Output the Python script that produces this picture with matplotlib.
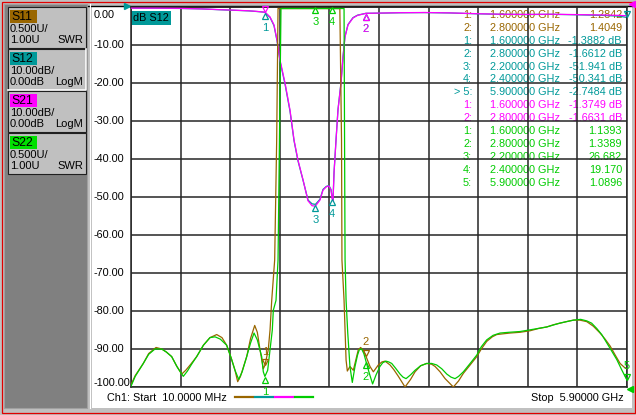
import matplotlib
matplotlib.use("Agg")
import matplotlib.pyplot as plt
import matplotlib.transforms as mtransforms
from matplotlib.patches import Rectangle
import numpy as np

plt.rcParams["font.family"] = ["Liberation Sans", "DejaVu Sans"]
plt.rcParams["font.size"] = 7.5

C_S11 = "#996600"
C_S12 = "#009999"
C_S21 = "#FF00FF"
C_S22 = "#00CC00"
C_GRID = "#262626"

# sweep (GHz)
f_start = 0.010
f_stop = 5.900

# S21 / S12 transmission, dB
f_db = [0.01, 0.30, 0.58, 0.85, 1.06, 1.25, 1.41, 1.50, 1.55, 1.60,
        1.66, 1.708, 1.744, 1.779, 1.839, 1.898, 1.946, 1.993, 2.053, 2.112,
        2.16, 2.20, 2.254, 2.29, 2.33, 2.361, 2.385, 2.40, 2.409, 2.421,
        2.445, 2.468, 2.504, 2.528, 2.551, 2.587, 2.646, 2.70, 2.80, 2.96,
        3.20, 3.50, 3.80, 4.10, 4.40, 4.70, 5.00, 5.30, 5.60, 5.80, 5.90]
s21_db = [-0.3, -0.3, -0.35, -0.5, -0.7, -0.85, -1.0, -1.15, -1.25, -1.3749,
          -2.6, -4.7, -8.7, -13.9, -20.0, -27.1, -35.0, -40.3, -45.5, -51.0,
          -52.3, -52.4, -50.8, -48.2, -47.3, -47.1, -48.2, -50.6, -51.0, -43.7,
          -35.0, -27.1, -20.0, -13.2, -7.9, -4.7, -2.9, -2.2, -1.6631, -1.6,
          -1.5, -1.45, -1.55, -1.75, -1.9, -1.95, -1.9, -2.0, -2.1, -2.2, -2.3]
s12_db = [-0.3, -0.32, -0.38, -0.5, -0.72, -0.88, -1.02, -1.18, -1.27, -1.3882,
          -2.7, -4.9, -8.9, -14.2, -20.3, -27.4, -35.2, -40.5, -45.6, -50.8,
          -51.8, -51.941, -50.6, -48.0, -47.2, -47.0, -48.0, -50.341, -50.8, -43.5,
          -34.8, -27.0, -19.8, -13.0, -7.8, -4.6, -2.8, -2.15, -1.6612, -1.62,
          -1.52, -1.47, -1.57, -1.78, -1.92, -1.98, -1.93, -2.05, -2.2, -2.4, -2.7484]

# S11 reflection, SWR  (frequency GHz, SWR)
s11_pts = [(0.01, 1.03), (0.06, 1.15), (0.156, 1.31), (0.22, 1.44), (0.307, 1.52),
           (0.375, 1.50), (0.43, 1.46), (0.493, 1.40), (0.55, 1.28), (0.612, 1.17),
           (0.66, 1.22), (0.72, 1.30), (0.790, 1.40), (0.87, 1.55), (0.948, 1.65),
           (1.028, 1.69), (1.09, 1.65), (1.146, 1.55), (1.20, 1.38), (1.245, 1.22),
           (1.277, 1.07), (1.31, 1.14), (1.384, 1.40), (1.43, 1.64), (1.479, 1.81),
           (1.51, 1.72), (1.542, 1.49), (1.581, 1.24), (1.60, 1.2842), (1.640, 1.49),
           (1.661, 1.75), (1.681, 2.14), (1.716, 2.67), (1.740, 4.25), (1.756, 6.2),
           (1.80, 12.0), (2.00, 30.0), (2.20, 35.0), (2.40, 25.0), (2.49, 8.0),
           (2.51, 4.25), (2.515, 2.67), (2.54, 2.14), (2.564, 1.355), (2.579, 1.21),
           (2.61, 1.27), (2.65, 1.22), (2.685, 1.38), (2.709, 1.49), (2.737, 1.52),
           (2.77, 1.48), (2.80, 1.4049), (2.848, 1.27), (2.888, 1.20), (2.947, 1.29),
           (2.99, 1.33), (3.027, 1.34), (3.086, 1.29), (3.13, 1.23), (3.185, 1.14),
           (3.264, 1.00), (3.33, 1.10), (3.383, 1.20), (3.45, 1.28), (3.522, 1.31),
           (3.58, 1.30), (3.621, 1.27), (3.68, 1.20), (3.74, 1.11), (3.838, 1.00),
           (3.90, 1.08), (3.957, 1.18), (4.03, 1.28), (4.116, 1.40), (4.17, 1.50),
           (4.234, 1.60), (4.30, 1.66), (4.353, 1.69), (4.43, 1.70), (4.511, 1.71),
           (4.63, 1.72), (4.749, 1.74), (4.85, 1.77), (4.947, 1.79), (5.03, 1.82),
           (5.105, 1.84), (5.18, 1.86), (5.264, 1.88), (5.34, 1.88), (5.422, 1.86),
           (5.50, 1.80), (5.58, 1.71), (5.64, 1.63), (5.699, 1.54), (5.76, 1.42),
           (5.818, 1.31), (5.877, 1.25), (5.90, 1.24)]

# S22 reflection, SWR  (frequency GHz, SWR)
s22_pts = [(0.01, 1.01), (0.06, 1.14), (0.156, 1.31), (0.22, 1.43), (0.295, 1.50),
           (0.375, 1.50), (0.43, 1.46), (0.493, 1.40), (0.56, 1.26), (0.631, 1.14),
           (0.68, 1.21), (0.73, 1.30), (0.790, 1.40), (0.87, 1.55), (0.948, 1.65),
           (1.008, 1.66), (1.07, 1.63), (1.146, 1.55), (1.20, 1.38), (1.245, 1.22),
           (1.289, 1.10), (1.33, 1.20), (1.384, 1.40), (1.43, 1.58), (1.471, 1.71),
           (1.51, 1.62), (1.562, 1.40), (1.581, 1.20), (1.60, 1.1393), (1.633, 1.22),
           (1.661, 1.49), (1.688, 1.75), (1.700, 2.01), (1.732, 2.14), (1.756, 2.67),
           (1.773, 4.25), (1.791, 6.2), (1.82, 10.0), (2.00, 25.0), (2.20, 26.682),
           (2.40, 19.170), (2.52, 8.0), (2.54, 6.0), (2.546, 4.25), (2.552, 2.67),
           (2.564, 2.14), (2.584, 1.71), (2.61, 1.27), (2.638, 1.06), (2.67, 1.27),
           (2.70, 1.42), (2.721, 1.49), (2.749, 1.50), (2.775, 1.44), (2.80, 1.3389),
           (2.84, 1.18), (2.879, 1.04), (2.92, 1.16), (2.966, 1.27), (3.00, 1.32),
           (3.038, 1.34), (3.07, 1.33), (3.106, 1.31), (3.15, 1.25), (3.205, 1.17),
           (3.24, 1.13), (3.276, 1.11), (3.33, 1.16), (3.383, 1.22), (3.45, 1.28),
           (3.522, 1.31), (3.58, 1.31), (3.64, 1.29), (3.70, 1.24), (3.76, 1.17),
           (3.81, 1.13), (3.858, 1.11), (3.90, 1.14), (3.957, 1.20), (4.03, 1.30),
           (4.116, 1.42), (4.17, 1.53), (4.234, 1.62), (4.31, 1.68), (4.393, 1.71),
           (4.50, 1.72), (4.63, 1.73), (4.79, 1.76), (4.947, 1.79), (5.10, 1.84),
           (5.264, 1.88), (5.35, 1.89), (5.422, 1.87), (5.48, 1.84), (5.541, 1.77),
           (5.60, 1.69), (5.66, 1.58), (5.72, 1.47), (5.779, 1.36), (5.84, 1.22),
           (5.90, 1.0896)]
f_s11, s11_swr = zip(*s11_pts)
f_s22, s22_swr = zip(*s22_pts)

# marker readouts
mk_freq = [1.6, 2.8, 2.2, 2.4, 5.9]
s11_mk = [1.2842, 1.4049]
s12_mk = [-1.3882, -1.6612, -51.941, -50.341, -2.7484]
s21_mk = [-1.3749, -1.6631]
s22_mk = [1.1393, 1.3389, 26.682, 19.170, 1.0896]
active_marker = 5

# channel buttons
ch_names = ["S11", "S12", "S21", "S22"]
ch_colors = [C_S11, C_S12, C_S21, "#00E000"]
ch_scale = ["0.500U/", "10.00dB/", "10.00dB/", "0.500U/"]
ch_ref = ["1.00U", "0.00dB", "0.00dB", "1.00U"]
ch_fmt = ["SWR", "LogM", "LogM", "SWR"]

DB_REF, DB_DIV = 0.0, 10.0
SWR_REF, SWR_DIV = 1.0, 0.5
NDIV = 10
SWR_TOP = SWR_REF + SWR_DIV * NDIV

fig = plt.figure(figsize=(6.36, 4.15), dpi=100)
fig.patch.set_facecolor("#C0C0C0")

# screen chrome in pixel coordinates
bg = fig.add_axes([0, 0, 1, 1])
bg.set_xlim(0, 636)
bg.set_ylim(415, 0)
bg.axis("off")

bg.add_patch(Rectangle((92, 6), 540, 402, fc="white", ec="none"))
bg.plot([88, 632], [6, 6], color="black", lw=1)
bg.add_patch(Rectangle((4, 4), 83, 404, fc="#808080", ec="#A0A0A0", lw=0.8))
bg.plot([90, 90], [4, 408], color="white", lw=0.8)
bg.add_patch(Rectangle((2, 2.5), 632.5, 410, fill=False, ec="#E00000", lw=0.9))

for i, name in enumerate(ch_names):
    top = 7 + 42 * i
    bg.add_patch(Rectangle((8, top), 78, 41, fc="#C0C0C0", ec="#202020", lw=0.8))
    if name == "S12":
        bg.plot([86, 86, 8], [top, top + 41, top + 41], color="white", lw=1.2)
    bg.add_patch(Rectangle((10, top + 3), 27, 13, fc=ch_colors[i], ec="none"))
    bg.text(11.5, top + 9.8, name, fontsize=8.8, va="center", ha="left", color="black")
    bg.text(10, top + 21.5, ch_scale[i], fontsize=8, va="center", ha="left")
    bg.text(10, top + 33, ch_ref[i], fontsize=8, va="center", ha="left")
    bg.text(83, top + 33, ch_fmt[i], fontsize=8, va="center", ha="right")

# measurement grid
ax = fig.add_axes([131 / 636, 1 - 387 / 415, 496 / 636, 380 / 415])
ax.set_facecolor("none")
ax.set_xlim(f_start, f_stop)
ax.set_ylim(DB_REF - DB_DIV * NDIV, DB_REF)
xt = np.linspace(f_start, f_stop, NDIV + 1)
yt = np.linspace(DB_REF - DB_DIV * NDIV, DB_REF, NDIV + 1)
ax.set_xticks(xt)
ax.set_yticks(yt)
ax.tick_params(length=0, labelleft=False, labelbottom=False)
ax.grid(True, color=C_GRID, lw=1.1)
for sp in ax.spines.values():
    sp.set_color(C_GRID)
    sp.set_linewidth(1.1)

swr = ax.twinx()
swr.set_ylim(SWR_REF, SWR_TOP)
swr.set_yticks([])
swr.axis("off")

# y labels, left aligned in the white margin
lab_tr = mtransforms.blended_transform_factory(bg.transData, ax.transData)
for v in yt:
    dy = 0
    if v == yt[-1]:
        dy = -8
    elif v == yt[0]:
        dy = 4
    tr = mtransforms.offset_copy(lab_tr, fig=fig, y=dy, units="dots")
    bg.text(94, v, f"{v:.2f}" if v != 0 else "0.00", transform=tr,
            ha="left", va="center", fontsize=7.8, color="black")

# traces
clip_swr = lambda a: np.clip(a, SWR_REF, SWR_TOP - 0.02)
swr.plot(f_s11, clip_swr(np.array(s11_swr)), color=C_S11, lw=0.9, zorder=2)
ax.plot(f_db, s12_db, color=C_S12, lw=0.9, zorder=2)
ax.plot(f_db, s21_db, color=C_S21, lw=0.9, zorder=3)
swr.plot(f_s22, clip_swr(np.array(s22_swr)), color=C_S22, lw=0.9, zorder=3)

MS = 5.0


def draw_markers(axis, values, color, shapes, show, top):
    for n, (f, v) in enumerate(zip(mk_freq, values)):
        v = min(v, top)
        shp = shapes[n]
        off = -MS / 2 if shp == "^" else MS / 2
        tr = mtransforms.offset_copy(axis.transData, fig=fig, y=off, units="points")
        axis.plot([f], [v], marker=shp, ms=MS, mfc="none", mec=color, mew=0.9,
                  transform=tr, clip_on=False, zorder=5)
        if show[n]:
            ty = -11 if shp == "^" else 10
            axis.annotate(str(n + 1), (f, v), xytext=(0, ty), textcoords="offset points",
                          ha="center", va="center", color=color, fontsize=8,
                          annotation_clip=False, zorder=5)


draw_markers(swr, s11_mk, C_S11, ["v", "v"], [True, True], SWR_TOP)
draw_markers(ax, s12_mk, C_S12, ["^", "^", "^", "^", "v"], [True, True, True, True, False], DB_REF)
draw_markers(ax, s21_mk, C_S21, ["v", "^"], [False, True], DB_REF)
draw_markers(swr, s22_mk, C_S22, ["^", "^", "^", "^", "v"], [True] * 5, SWR_TOP)

# reference position indicators
ax.plot([f_start], [DB_REF], marker=">", ms=4.5, color=C_S12, clip_on=False,
        transform=mtransforms.offset_copy(ax.transData, fig=fig, x=-4, y=1, units="dots"))
ax.plot([f_stop], [DB_REF], marker="<", ms=4.5, color=C_S21, clip_on=False,
        transform=mtransforms.offset_copy(ax.transData, fig=fig, x=5, y=3, units="dots"))
swr.plot([f_stop], [SWR_REF], marker="<", ms=5, color=C_S22, clip_on=False,
         transform=mtransforms.offset_copy(swr.transData, fig=fig, x=3, y=-2, units="dots"))

bg.text(133, 18, "dB S12", ha="left", va="center", fontsize=7.8, color="black",
        bbox=dict(boxstyle="square,pad=0.2", fc=C_S12, ec="none"))

# marker readout table
rows = []
for n, v in enumerate(s11_mk):
    rows.append((C_S11, f"{n + 1}:", mk_freq[n], f"{v:#.5g}"))
for n, v in enumerate(s12_mk):
    idx = f"> {n + 1}:" if n + 1 == active_marker else f"{n + 1}:"
    rows.append((C_S12, idx, mk_freq[n], f"{v:#.5g} dB"))
for n, v in enumerate(s21_mk):
    rows.append((C_S21, f"{n + 1}:", mk_freq[n], f"{v:#.5g} dB"))
for n, v in enumerate(s22_mk):
    rows.append((C_S22, f"{n + 1}:", mk_freq[n], f"{v:#.5g}"))

for r, (col, idx, f, val) in enumerate(rows):
    y = 15 + 12.9 * r
    bg.text(472, y, idx, ha="right", va="center", color=col, fontsize=7.8)
    bg.text(560, y, f"{f:.6f} GHz", ha="right", va="center", color=col, fontsize=7.8)
    bg.text(622, y, val, ha="right", va="center", color=col, fontsize=7.8)

# status line
bg.text(107, 398, f"Ch1: Start  {f_start * 1000:.4f} MHz", ha="left", va="center", fontsize=7.8)
bg.text(624, 398, f"Stop  {f_stop:.5f} GHz", ha="right", va="center", fontsize=7.8)
for k, col in enumerate([C_S11, C_S12, C_S21, C_S22]):
    x0 = 235 + 20 * k
    bg.plot([x0, x0 + 18], [397, 397], color=col, lw=1.6)

fig.savefig("out.png", dpi=100, facecolor=fig.get_facecolor())
